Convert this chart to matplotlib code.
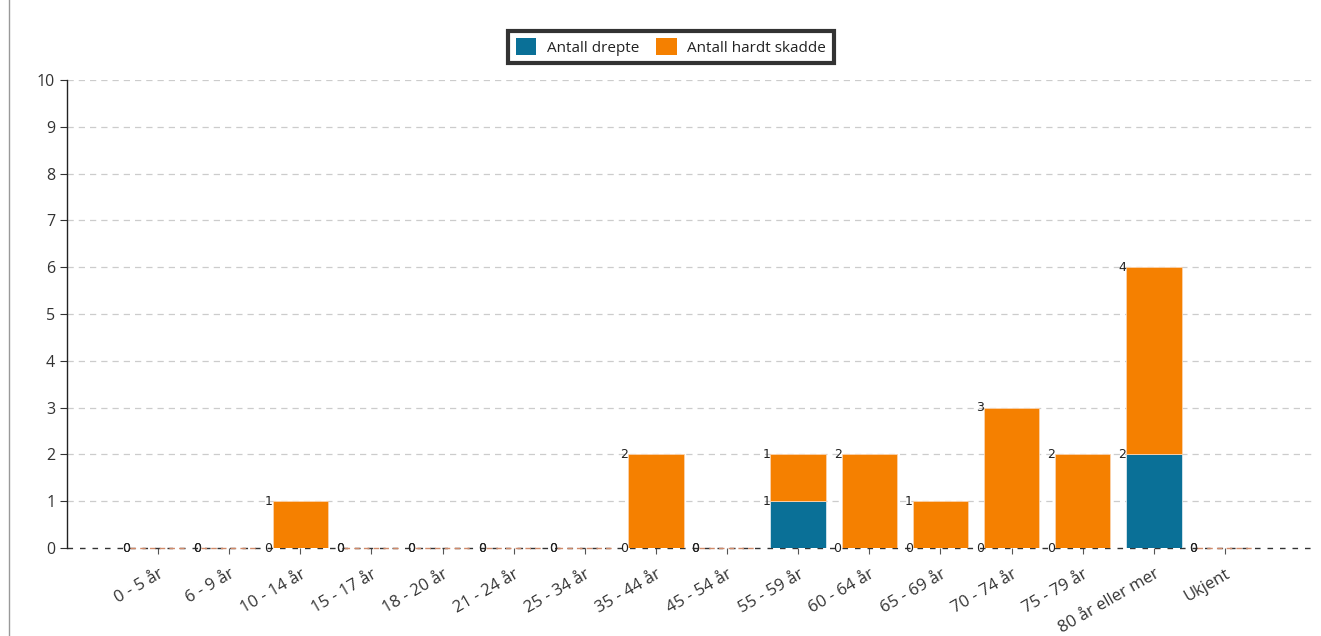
import matplotlib
matplotlib.use("Agg")
import matplotlib.pyplot as plt
from matplotlib.lines import Line2D
from matplotlib.patches import Patch
import numpy as np

categories = ["0 - 5 år", "6 - 9 år", "10 - 14 år", "15 - 17 år", "18 - 20 år",
              "21 - 24 år", "25 - 34 år", "35 - 44 år", "45 - 54 år", "55 - 59 år",
              "60 - 64 år", "65 - 69 år", "70 - 74 år", "75 - 79 år",
              "80 år eller mer", "Ukjent"]
drepte = [0, 0, 0, 0, 0, 0, 0, 0, 0, 1, 0, 0, 0, 0, 2, 0]
hardt_skadde = [0, 0, 1, 0, 0, 0, 0, 2, 0, 1, 2, 1, 3, 2, 4, 0]

series_names = ["Antall drepte", "Antall hardt skadde"]
colors = ["#0a7097", "#f58000"]

plt.rcParams["font.family"] = ["Open Sans", "DejaVu Sans"]

fig = plt.figure(figsize=(13.21, 6.36), dpi=100)
ax = fig.add_axes([67 / 1321, 1 - 548 / 636, (1316 - 67) / 1321, (548 - 80) / 636])

x = np.arange(len(categories))
width = 0.78
d = np.array(drepte)
s = np.array(hardt_skadde)

ax.bar(x, d, width, color=colors[0], edgecolor="#d9e8ee", linewidth=0.6, zorder=3)
ax.bar(x, s, width, bottom=d, color=colors[1], edgecolor="#fbd3ad", linewidth=0.6, zorder=3)

# baseline: dark dashes, with a faint reddish stroke under zero-height bars
ax.axhline(0, color="#333333", lw=1.0, ls=(0, (4, 5)), zorder=2, clip_on=False)
for xi, di, si in zip(x, d, s):
    if di + si == 0:
        ax.plot([xi - width / 2, xi + width / 2], [0, 0], color="#d08a6a",
                lw=1.0, ls=(0, (4, 3)), zorder=4, clip_on=False)

# value labels at the top-left corner of each segment
for xi, di, si in zip(x, d, s):
    ax.text(xi - width / 2, di, f"{di}", ha="right", va="center", fontsize=9,
            family="DejaVu Sans", color="#222222", zorder=5)
    ax.text(xi - width / 2, di + si, f"{si}", ha="right", va="center", fontsize=9,
            family="DejaVu Sans", color="#222222", zorder=5)

ax.set_xlim(-1.28, len(categories) - 1 + 1.28)
ax.set_ylim(0, 10)
ax.set_yticks(range(0, 11))
ax.set_xticks(x)
ax.set_xticklabels(categories, rotation=30, ha="right", rotation_mode="anchor",
                   fontsize=12, color="#333333")
ax.tick_params(axis="y", labelsize=11.5, labelcolor="#333333", length=5, color="#333333")
ax.tick_params(axis="x", length=4, color="#555555", pad=9)

for yv in range(1, 11):
    ax.axhline(yv, color="#cccccc", lw=0.9, ls=(0, (5, 4)), zorder=1)

for side in ["top", "right", "bottom"]:
    ax.spines[side].set_visible(False)
ax.spines["left"].set_color("#222222")
ax.spines["left"].set_linewidth(1.0)

handles = [Patch(facecolor=c, edgecolor="none") for c in colors]
leg = fig.legend(handles, series_names, loc="center", ncol=2,
                 bbox_to_anchor=(671 / 1321, 1 - 47 / 636), fontsize=11,
                 frameon=True, fancybox=False, handlelength=1.35, handleheight=1.35,
                 handletextpad=0.7, columnspacing=1.1, borderpad=0.5)
leg.get_frame().set_edgecolor("black")
leg.get_frame().set_linewidth(3)
for t in leg.get_texts():
    t.set_color("#222222")

fig.add_artist(Line2D([9 / 1321, 9 / 1321], [0, 1], color="#999999", lw=1.0))

fig.savefig("out.png", dpi=100)
